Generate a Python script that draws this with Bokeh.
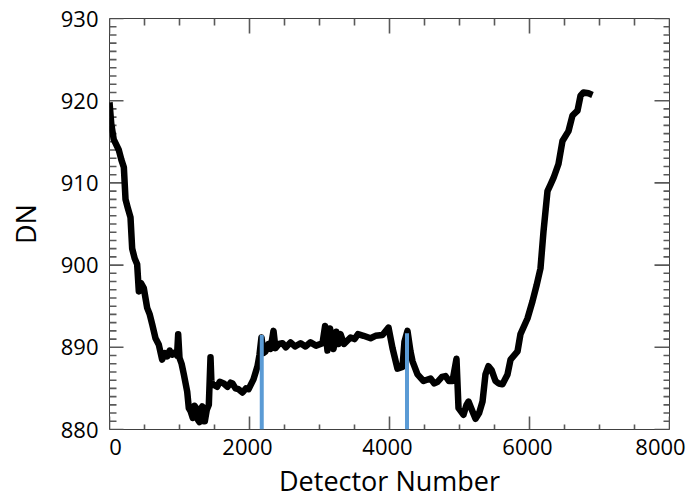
from bokeh.plotting import figure
from bokeh.models import Range1d, FixedTicker
from bokeh.embed import file_html
from bokeh.resources import INLINE

# ---- data ----
detector = [0, 25, 60, 133, 170, 205, 229, 260, 300, 324, 360, 395, 419, 450, 490, 538, 575, 610,
            657, 705, 752, 790, 824, 860, 895, 943, 965, 981, 1000, 1030, 1062, 1110, 1133, 1160,
            1190, 1215, 1238, 1262, 1286, 1305, 1324, 1345, 1362, 1390, 1419, 1443, 1455, 1467,
            1500, 1538, 1575, 1633, 1686, 1730, 1757, 1800, 1843, 1900, 1950, 1986, 2057, 2114,
            2143, 2171, 2200, 2229, 2271, 2300, 2343, 2371, 2420, 2471, 2520, 2586, 2650, 2729,
            2800, 2871, 2950, 3043, 3080, 3114, 3150, 3200, 3240, 3271, 3300, 3350, 3443, 3500,
            3550, 3629, 3729, 3800, 3900, 3986, 4043, 4114, 4186, 4214, 4257, 4300, 4329, 4400,
            4486, 4586, 4640, 4686, 4750, 4800, 4850, 4900, 4957, 4986, 5057, 5100, 5129, 5186,
            5229, 5280, 5329, 5371, 5414, 5460, 5514, 5560, 5614, 5686, 5729, 5829, 5871, 5971,
            6043, 6100, 6157, 6200, 6257, 6300, 6343, 6414, 6471, 6557, 6614, 6686, 6729, 6771,
            6843, 6900]
dn = [919.8, 917.2, 915.3, 914.0, 912.8, 911.9, 908.0, 907.0, 905.8, 902.0, 900.8, 900.1, 896.8,
      897.8, 897.2, 894.8, 894.0, 892.8, 891.1, 890.3, 888.5, 889.3, 888.9, 889.6, 889.1, 889.4,
      889.0, 891.6, 888.7, 888.0, 886.7, 884.6, 882.6, 882.2, 881.4, 882.9, 882.6, 881.2, 880.9,
      882.5, 882.8, 881.0, 881.0, 882.4, 883.0, 888.8, 886.0, 885.4, 885.4, 885.2, 885.8, 885.6,
      885.2, 885.7, 885.6, 885.0, 884.9, 884.5, 885.0, 884.9, 886.1, 887.7, 889.1, 891.2, 889.3,
      889.5, 890.4, 889.8, 892.0, 889.9, 890.4, 890.5, 890.0, 890.6, 890.1, 890.5, 890.1, 890.6,
      890.2, 890.5, 892.6, 889.6, 892.3, 889.8, 891.9, 890.4, 891.6, 890.4, 891.2, 891.0, 891.6,
      891.4, 891.1, 891.4, 891.5, 892.4, 889.9, 887.4, 887.6, 890.7, 892.0, 889.5, 888.3, 886.7,
      885.9, 886.2, 885.6, 885.8, 886.4, 886.5, 885.9, 885.9, 888.6, 882.6, 881.8, 883.0, 883.4,
      882.2, 881.3, 882.0, 883.4, 886.7, 887.7, 887.2, 885.9, 885.6, 885.5, 886.7, 888.5, 889.5,
      891.6, 893.5, 895.6, 897.5, 899.6, 904.1, 909.0, 909.8, 910.6, 912.3, 915.1, 916.3, 918.2,
      918.8, 920.6, 921.0, 920.9, 920.7]

marker_x = [2175, 4250]
marker_top = [891.5, 891.7]

x_ticks = [0, 2000, 4000, 6000, 8000]
x_tick_labels = ["0", "2000", "4000", "6000", "8000"]
y_ticks = [880, 890, 900, 910, 920, 930]
y_tick_labels = ["880", "890", "900", "910", "920", "930"]

X0, X1 = 0, 8000
Y0, Y1 = 880, 930
x_minor = list(range(X0, X1 + 1, 500))
y_minor = list(range(Y0, Y1 + 1, 1))

FONT = "Open Sans"
AX_COLOR = "#404040"
TICK_COLOR = "#595959"

W, H = 688, 501
B_LEFT, B_RIGHT, B_TOP = 109, 19, 18
FRAME_H = 410.0
p = figure(width=W, height=H, output_backend="svg", toolbar_location=None,
           x_range=Range1d(X0, X1), y_range=Range1d(Y0, Y1),
           min_border_left=B_LEFT, min_border_right=B_RIGHT, min_border_top=B_TOP,
           min_border_bottom=0,
           x_axis_label="Detector Number", y_axis_label="DN")
p.background_fill_color = "white"
p.border_fill_color = "white"
p.outline_line_color = AX_COLOR
p.outline_line_width = 1
p.grid.visible = False

# approximate data units per screen pixel (used for tick-mark lengths / label nudges)
ux = (X1 - X0) / (W - B_LEFT - B_RIGHT)
uy = (Y1 - Y0) / FRAME_H

x_minor_only = [v for v in x_minor if v not in x_ticks]
y_minor_only = [v for v in y_minor if v not in y_ticks]

def vticks(xs, y, length_px, sign):
    p.segment(x0=xs, y0=[y] * len(xs), x1=xs, y1=[y + sign * length_px * uy] * len(xs),
              line_color=TICK_COLOR, line_width=1.6)

def hticks(ys, x, length_px, sign):
    p.segment(x0=[x] * len(ys), y0=ys, x1=[x + sign * length_px * ux] * len(ys), y1=ys,
              line_color=TICK_COLOR, line_width=1.6)

vticks(x_minor_only, Y0, 5, +1)
vticks(x_ticks, Y0, 13, +1)
vticks(x_minor_only, Y1, 7, -1)
vticks(x_ticks, Y1, 15, -1)
hticks(y_minor_only, X0, 7, +1)
hticks(y_ticks, X0, 14, +1)
hticks(y_minor_only, X1, 6, -1)
hticks(y_ticks, X1, 15, -1)

p.line(detector, dn, line_color="black", line_width=6.5, line_join="round")
p.segment(x0=marker_x, y0=[Y0] * len(marker_x), x1=marker_x, y1=marker_top,
          line_color="#5b9bd5", line_width=4)

# x tick labels are kept inside the plot width, as in the reference (end labels nudged inwards)
label_nudge_px = [6, -2, -2, -2, -9]
x_label_pos = [int(round(t + n * ux)) for t, n in zip(x_ticks, label_nudge_px)]
p.xaxis.ticker = FixedTicker(ticks=x_label_pos, minor_ticks=[])
p.xaxis.major_label_overrides = {pos: lab for pos, lab in zip(x_label_pos, x_tick_labels)}
p.yaxis.ticker = FixedTicker(ticks=y_ticks, minor_ticks=[])
p.yaxis.major_label_overrides = {t: lab for t, lab in zip(y_ticks, y_tick_labels)}

for ax in list(p.xaxis) + list(p.yaxis):
    ax.axis_line_color = None
    ax.major_tick_line_color = None
    ax.minor_tick_line_color = None
    ax.major_tick_out = 0
    ax.minor_tick_out = 0
    ax.major_tick_in = 0
    ax.minor_tick_in = 0
    ax.major_label_text_font = FONT
    ax.major_label_text_font_size = "22px"
    ax.major_label_text_color = "black"
    ax.axis_label_text_font = FONT
    ax.axis_label_text_font_size = "27px"
    ax.axis_label_text_font_style = "normal"
    ax.axis_label_text_color = "black"

bottom = p.xaxis[0]
bottom.major_label_standoff = 9
bottom.axis_label_standoff = 4
left = p.yaxis[0]
left.major_label_standoff = 11
left.axis_label_standoff = 14

open("out.html", "w").write(file_html(p, INLINE))
